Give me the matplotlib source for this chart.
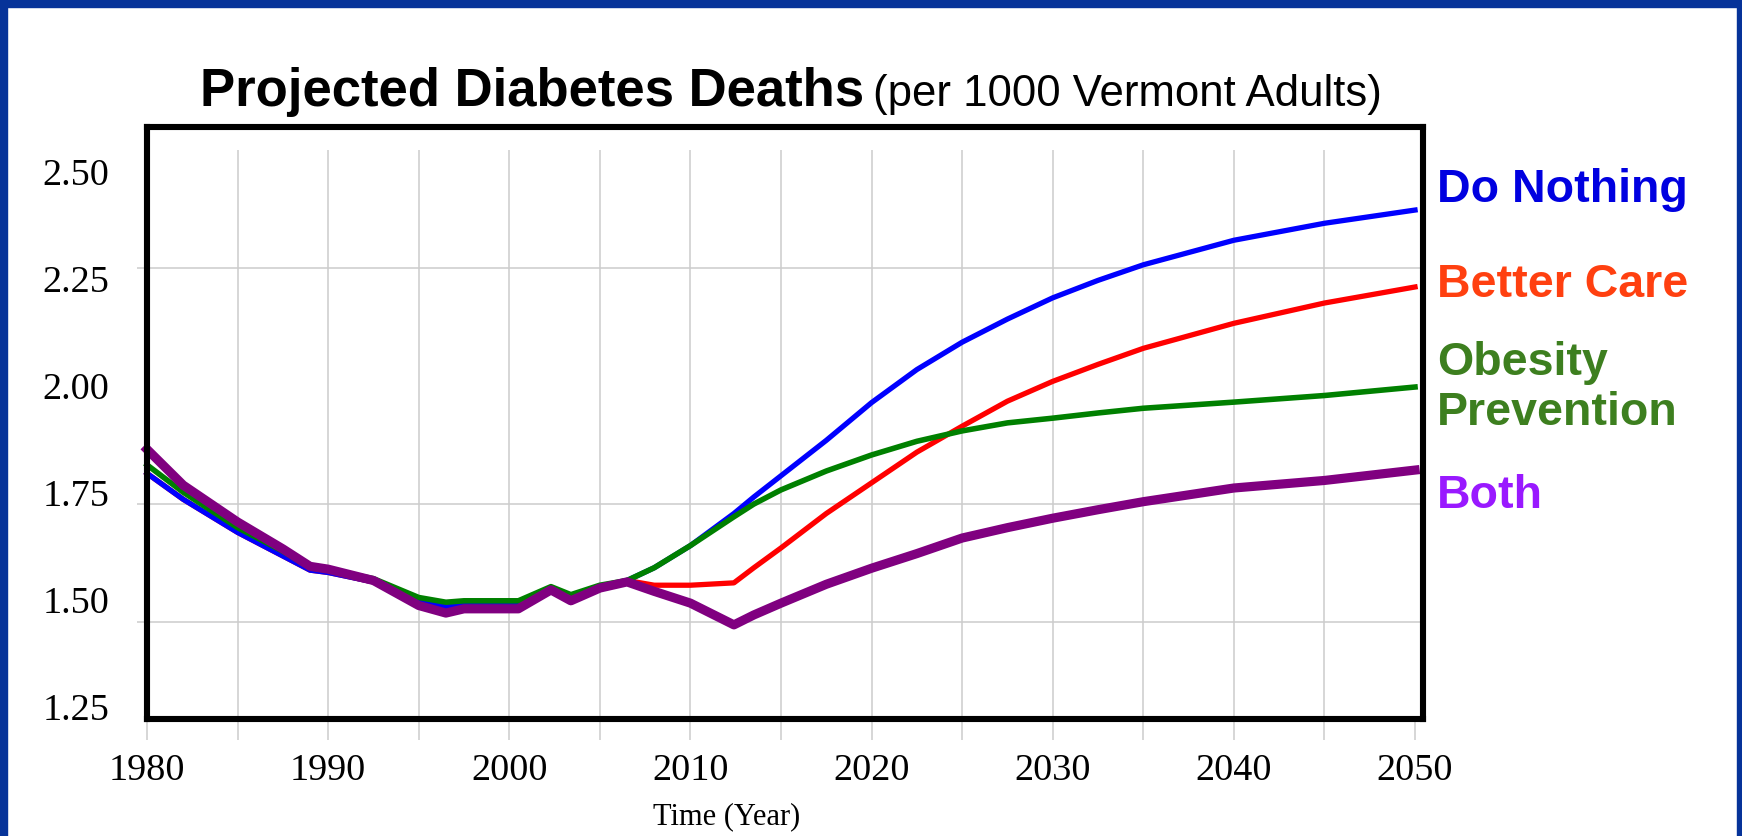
import matplotlib.pyplot as plt
from matplotlib.patches import Rectangle
from matplotlib.ticker import MultipleLocator, FixedLocator

# values
years = [1980, 1982, 1985, 1987.5, 1989, 1990, 1992.5, 1995, 1996.5, 1997.5,
         2000.5, 2002.3, 2003.4, 2005, 2006.5, 2008, 2010, 2012.4, 2013.5,
         2015, 2017.5, 2020, 2022.5, 2025, 2027.5, 2030, 2032.5, 2035, 2040,
         2045, 2050]

do_nothing = [1.815, 1.76, 1.69, 1.64, 1.61, 1.605, 1.585, 1.545, 1.532, 1.535,
              1.535, 1.568, 1.553, 1.575, 1.588, 1.615, 1.662, 1.73, 1.765,
              1.81, 1.885, 1.965, 2.035, 2.093, 2.142, 2.187, 2.224, 2.257, 2.309,
              2.345, 2.373]

better_care = [1.815, 1.76, 1.69, 1.64, 1.61, 1.605, 1.585, 1.545, 1.532, 1.535,
               1.535, 1.568, 1.553, 1.575, 1.588, 1.578, 1.578, 1.583, 1.615,
               1.657, 1.73, 1.795, 1.86, 1.915, 1.968, 2.01, 2.046, 2.08, 2.133,
               2.176, 2.21]

obesity = [1.833, 1.775, 1.70, 1.65, 1.615, 1.61, 1.592, 1.552, 1.542, 1.545,
           1.545, 1.575, 1.558, 1.578, 1.588, 1.615, 1.662, 1.723, 1.75,
           1.78, 1.82, 1.854, 1.883, 1.905, 1.922, 1.932, 1.943, 1.953, 1.966,
           1.98, 1.998]

both = [1.866, 1.79, 1.712, 1.655, 1.618, 1.612, 1.588, 1.535, 1.519, 1.528,
        1.528, 1.568, 1.545, 1.572, 1.585, 1.565, 1.54, 1.494, 1.515,
        1.54, 1.58, 1.614, 1.645, 1.678, 1.70, 1.72, 1.738, 1.755, 1.784,
        1.80, 1.822]

y_tick_labels = [1.25, 1.50, 1.75, 2.00, 2.25, 2.50]
y_grid = [1.50, 1.75, 2.00, 2.25]
x_labels = [1980, 1990, 2000, 2010, 2020, 2030, 2040, 2050]

W, H = 1742, 836
fig = plt.figure(figsize=(W / 100, H / 100), dpi=100)
fig.patch.set_facecolor("white")

# dark blue slide frame
border = "#063399"
fig.add_artist(Rectangle((0, 1 - 7 / H), 1, 7 / H, transform=fig.transFigure, color=border))
fig.add_artist(Rectangle((0, 0), 7 / W, 1, transform=fig.transFigure, color=border))
fig.add_artist(Rectangle((1 - 5 / W, 0), 5 / W, 1, transform=fig.transFigure, color=border))

ax = fig.add_axes([147 / W, 1 - 719 / H, (1423 - 147) / W, (719 - 127) / H])
ax.set_xlim(1980.33, 2050.44)
ax.set_ylim(1.2945, 2.549)

grid_c = "#cccccc"
ax.vlines(range(1985, 2050, 5), 1.2945, 2.5, color=grid_c, lw=1.1, zorder=0)
ax.yaxis.set_minor_locator(FixedLocator(y_grid))
ax.grid(which="minor", axis="y", color=grid_c, lw=1.1, zorder=0)

ax.plot(years, better_care, color="#ff0000", lw=3.8, clip_on=False, zorder=2)
ax.plot(years, do_nothing, color="#0000ff", lw=3.8, clip_on=False, zorder=3)
ax.plot(years, obesity, color="#008000", lw=4.0, clip_on=False, zorder=4)
ax.plot(years, both, color="#800080", lw=6.6, clip_on=False, zorder=6)

for s in ax.spines.values():
    s.set_linewidth(4.4)
    s.set_color("black")
    s.set_zorder(10)

serif = "Liberation Serif"
ax.set_xticks(x_labels)
ax.set_xticklabels([str(x) for x in x_labels], fontfamily=serif, fontsize=27.5)
ax.xaxis.set_minor_locator(MultipleLocator(5))
ax.tick_params(axis="x", which="both", length=15, width=1.1, color=grid_c, pad=10)

# tick labels sit on a slightly tighter spacing than the grid in the original
label_pos = [2.0 + (v - 2.0) * 0.907 for v in y_tick_labels]
ax.set_yticks(label_pos)
ax.set_yticklabels([f"{v:.2f}" for v in y_tick_labels], fontfamily=serif, fontsize=27.5)
ax.tick_params(axis="y", which="major", length=0, pad=27)
ax.tick_params(axis="y", which="minor", length=7, width=1.1, color=grid_c)

fig.text(727 / W, 1 - 817 / H, "Time (Year)", fontfamily=serif, fontsize=22,
         ha="center", va="center")

sans = "Liberation Sans"
fig.text(200 / W, 1 - 106 / H, "Projected Diabetes Deaths", fontfamily=sans,
         fontweight="bold", fontsize=38, va="baseline")
fig.text(873 / W, 1 - 106 / H, "(per 1000 Vermont Adults)", fontfamily=sans,
         fontsize=31.5, va="baseline")

# series names to the right of the frame
lx = 1437 / W
fig.text(lx, 1 - 190 / H, "Do Nothing", color="#0000e0", fontfamily=sans,
         fontweight="bold", fontsize=33.5, va="center")
fig.text(lx, 1 - 285 / H, "Better Care", color="#ff4010", fontfamily=sans,
         fontweight="bold", fontsize=33.5, va="center")
fig.text(lx, 1 - 388 / H, "Obesity\nPrevention", color="#3d7f1f", fontfamily=sans,
         fontweight="bold", fontsize=33.5, va="center", linespacing=1.2)
fig.text(lx, 1 - 496 / H, "Both", color="#9919ff", fontfamily=sans,
         fontweight="bold", fontsize=33.5, va="center")

fig.savefig("out.png", dpi=100)
